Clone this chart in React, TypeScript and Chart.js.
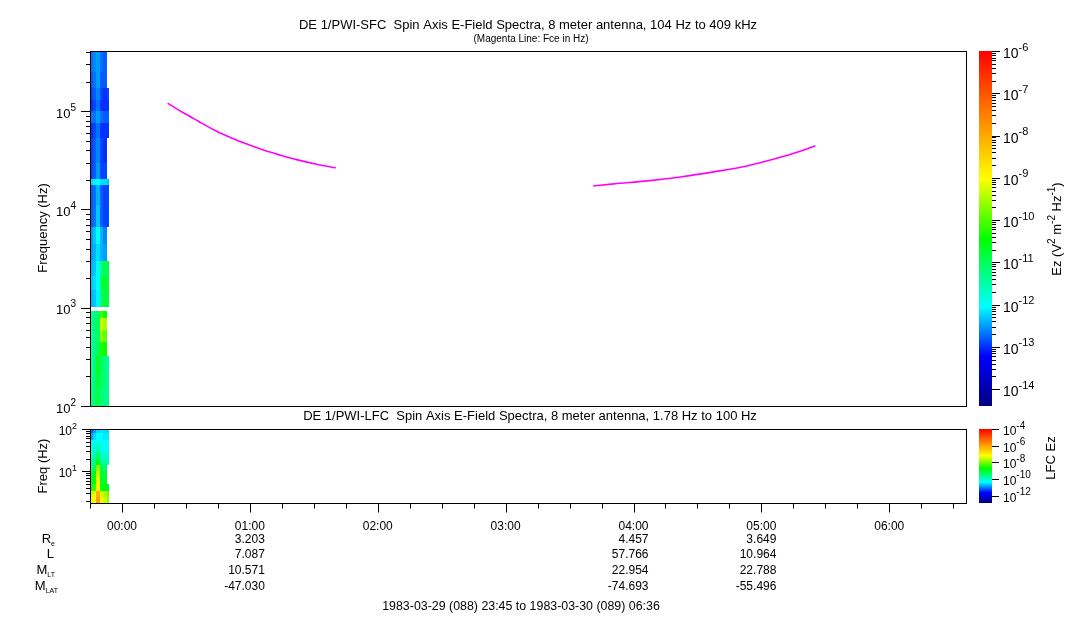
import React, { useEffect, useRef } from 'react';
import { Chart, registerables } from 'chart.js';

Chart.register(...registerables);

const FONT = '"Liberation Sans", Arial, Helvetica, sans-serif';

// time axis: hours relative to 1983-03-30 00:00
const T_START = -0.25; // 23:45
const T_END = 6.6; // 06:36

const hourTicks = [0, 1, 2, 3, 4, 5, 6];
const hourLabels = ['00:00', '01:00', '02:00', '03:00', '04:00', '05:00', '06:00'];

const orbitTimes = [1, 4, 5];
const orbitRe = ['3.203', '4.457', '3.649'];
const orbitL = ['7.087', '57.766', '10.964'];
const orbitMLT = ['10.571', '22.954', '22.788'];
const orbitMLAT = ['-47.030', '-74.693', '-55.496'];

// spectrogram time bins (minutes from 00:00)
const specTimeEdgesMin = [-15, -13.5, -12, -10.5, -9, -7, -6.3];

// SFC (upper) spectrogram: frequency bin edges (Hz) and log10 power per bin
const sfcFreqEdges = [100, 150, 220, 325, 450, 600, 780, 923, 1023, 1500, 2100, 3000, 4500, 6600, 11000, 17900, 20600, 30000, 52800, 75000, 100000, 130000, 171000, 250000, 409000];
const sfcLogPower: (number | null)[][] = [
  [-11.3, -11.1, -10.9, -11.2, -11.3, -11.3],
  [-11.4, -11.2, -10.8, -11.1, -11.2, -11.4],
  [-11.5, -11.2, -10.7, -11.0, -11.3, -11.4],
  [-11.5, -11.3, -11.0, -10.3, -10.4, null],
  [-11.5, -11.3, -11.1, -9.7, -9.9, null],
  [-11.4, -11.2, -11.0, -9.3, -9.5, null],
  [-11.4, -11.3, -11.1, -10.1, -10.4, null],
  [null, null, null, null, null, null],
  [-12.4, -12.3, -12.1, -11.2, -10.8, -10.9],
  [-12.3, -12.2, -12.0, -11.0, -10.7, -10.9],
  [-12.4, -12.3, -12.0, -11.3, -10.9, -11.0],
  [-12.5, -12.4, -12.2, -12.4, -12.5, null],
  [-12.5, -12.3, -12.0, -12.4, -12.6, null],
  [-12.8, -12.7, -12.3, -12.8, -12.9, -12.9],
  [-12.8, -12.7, -12.4, -12.8, -12.9, -12.9],
  [-12.2, -12.1, -12.0, -12.2, -12.2, -12.3],
  [-12.9, -12.8, -12.5, -12.9, -12.9, null],
  [-12.9, -12.8, -12.6, -12.9, -13.0, null],
  [-13.0, -12.9, -12.7, -13.0, -13.0, -13.0],
  [-12.7, -12.7, -12.5, -12.7, -12.8, -12.8],
  [-13.0, -12.9, -12.7, -13.0, -13.0, -13.0],
  [-12.9, -12.8, -12.6, -12.9, -13.0, -12.9],
  [-12.8, -12.7, -12.5, -12.8, -12.8, null],
  [-12.7, -12.6, -12.5, -12.7, -12.8, null],
];

// LFC (lower) spectrogram
const lfcFreqEdges = [1.78, 2.5, 3.5, 5, 7, 10, 14, 20, 28, 40, 56, 79, 100];
const lfcLogPower: (number | null)[][] = [
  [-7.3, -7.2, -6.0, -7.3, -7.5, -7.9],
  [-7.5, -7.3, -6.2, -7.5, -7.7, -8.0],
  [-8.6, -8.4, -7.0, -8.7, -8.8, -8.9],
  [-8.9, -8.7, -7.3, -8.9, -9.0, null],
  [-9.0, -8.8, -7.5, -9.0, -9.1, null],
  [-9.6, -9.3, -7.9, -9.2, -9.4, null],
  [-9.8, -9.6, -8.8, -9.7, -9.8, -9.9],
  [-10.0, -9.9, -9.4, -10.0, -10.1, -10.2],
  [-10.2, -10.1, -9.9, -10.3, -10.3, -10.4],
  [-10.4, -10.3, -10.2, -10.4, -10.4, -10.4],
  [-10.9, -10.6, -10.4, -10.4, -10.5, -10.5],
  [-11.1, -10.9, -10.6, -10.5, -10.6, -10.6],
];

// Electron gyrofrequency (Fce) traces
const fce1Time = [0.357, 0.487, 0.591, 0.721, 0.852, 0.982, 1.112, 1.242, 1.373, 1.529, 1.672];
const fce1Freq = [120500, 95100, 79800, 64300, 53700, 45900, 39900, 35500, 31900, 28700, 26500];
const fce2Time = [3.685, 3.846, 4.107, 4.367, 4.627, 4.888, 5.148, 5.279, 5.422];
const fce2Freq = [17300, 18200, 19500, 21400, 24100, 27700, 33900, 38200, 44500];

const sfcColorRange = [-14.4, -6];
const lfcColorRange = [-12.9, -4];
const sfcCbExponents = [-6, -7, -8, -9, -10, -11, -12, -13, -14];
const lfcCbExponents = [-4, -6, -8, -10, -12];

const COLOR_STOPS: [number, number[]][] = [
  [0, [0, 0, 128]],
  [0.14, [0, 0, 255]],
  [0.28, [0, 255, 255]],
  [0.47, [0, 255, 0]],
  [0.64, [255, 255, 0]],
  [1, [255, 0, 0]],
];

function colorAt(f: number) {
  f = Math.max(0, Math.min(1, f));
  for (let i = 1; i < COLOR_STOPS.length; i++) {
    const [p0, c0] = COLOR_STOPS[i - 1];
    const [p1, c1] = COLOR_STOPS[i];
    if (f <= p1) {
      const u = (f - p0) / (p1 - p0);
      return `rgb(${c0.map((v, k) => Math.round(v + (c1[k] - v) * u)).join(',')})`;
    }
  }
  return 'rgb(255,0,0)';
}

type Seg = { t: string; size: number; d?: number };

function drawSegs(ctx: CanvasRenderingContext2D, segs: Seg[], x: number, y: number, align: 'left' | 'center' | 'right') {
  const widths = segs.map((s) => {
    ctx.font = `${s.size}px ${FONT}`;
    return ctx.measureText(s.t).width;
  });
  const total = widths.reduce((a, b) => a + b, 0);
  let cx = align === 'left' ? x : align === 'center' ? x - total / 2 : x - total;
  ctx.textAlign = 'left';
  ctx.fillStyle = '#000';
  segs.forEach((s, i) => {
    ctx.font = `${s.size}px ${FONT}`;
    ctx.fillText(s.t, cx, y + (s.d || 0));
    cx += widths[i];
  });
}

function text(ctx: CanvasRenderingContext2D, t: string, x: number, y: number, size: number, align: CanvasTextAlign) {
  ctx.font = `${size}px ${FONT}`;
  ctx.textAlign = align;
  ctx.fillStyle = '#000';
  ctx.fillText(t, x, y);
}

function drawCells(ctx: CanvasRenderingContext2D, xs: any, ys: any, tEdges: number[], fEdges: number[], m: (number | null)[][], range: number[]) {
  for (let r = 0; r < m.length; r++) {
    for (let c = 0; c < m[r].length; c++) {
      const v = m[r][c];
      if (v === null || v === undefined) continue;
      const x0 = Math.round(xs.getPixelForValue(tEdges[c] / 60));
      const x1 = Math.round(xs.getPixelForValue(tEdges[c + 1] / 60));
      const yT = Math.round(ys.getPixelForValue(fEdges[r + 1]));
      const yB = Math.round(ys.getPixelForValue(fEdges[r]));
      ctx.fillStyle = colorAt((v - range[0]) / (range[1] - range[0]));
      ctx.fillRect(x0, yT, x1 - x0, yB - yT);
    }
  }
}

function drawFrame(ctx: CanvasRenderingContext2D, a: any) {
  ctx.strokeStyle = '#000';
  ctx.lineWidth = 1;
  ctx.strokeRect(Math.round(a.left) + 0.5, Math.round(a.top) + 0.5, Math.round(a.right - a.left), Math.round(a.bottom - a.top));
}

function logTicks(ctx: CanvasRenderingContext2D, sc: any, x: number, dir: number, decades: number[], majorLen: number, minorLen: number, minor: boolean) {
  ctx.beginPath();
  const lo = Math.min(sc.min, sc.max) * 0.9999;
  const hi = Math.max(sc.min, sc.max) * 1.0001;
  decades.forEach((d) => {
    const v = Math.pow(10, d);
    if (v >= lo && v <= hi) {
      const y = Math.round(sc.getPixelForValue(v)) + 0.5;
      ctx.moveTo(x, y);
      ctx.lineTo(x + dir * majorLen, y);
    }
    if (minor) {
      for (let k = 2; k <= 9; k++) {
        const mv = k * v;
        if (mv >= lo && mv <= hi) {
          const y = Math.round(sc.getPixelForValue(mv)) + 0.5;
          ctx.moveTo(x, y);
          ctx.lineTo(x + dir * minorLen, y);
        }
      }
    }
  });
  ctx.strokeStyle = '#000';
  ctx.lineWidth = 1;
  ctx.stroke();
}

function powLabel(ctx: CanvasRenderingContext2D, exp: number, x: number, yTick: number, align: 'left' | 'right', bs: number, ss: number) {
  drawSegs(ctx, [
    { t: '10', size: bs, d: 0.5 * bs },
    { t: String(exp), size: ss, d: -0.5 },
  ], x, yTick, align);
}

function drawColorbar(ctx: CanvasRenderingContext2D, cb: any, x0: number, x1: number, range: number[]) {
  const top = Math.round(cb.getPixelForValue(Math.pow(10, range[1])));
  const bot = Math.round(cb.getPixelForValue(Math.pow(10, range[0])));
  const g = ctx.createLinearGradient(0, bot, 0, top);
  COLOR_STOPS.forEach(([p, c]) => g.addColorStop(p, `rgb(${c.join(',')})`));
  ctx.fillStyle = g;
  ctx.fillRect(x0, top, x1 - x0, bot - top);
  ctx.fillStyle = '#000';
}

function rotated(ctx: CanvasRenderingContext2D, cx: number, cy: number, fn: () => void) {
  ctx.save();
  ctx.translate(cx, cy);
  ctx.rotate(-Math.PI / 2);
  fn();
  ctx.restore();
}

const sfcPlugin = {
  id: 'sfcDecor',
  beforeDatasetsDraw(chart: any) {
    const { ctx, chartArea: a, scales } = chart;
    ctx.save();
    ctx.beginPath();
    ctx.rect(a.left, a.top, a.right - a.left, a.bottom - a.top);
    ctx.clip();
    drawCells(ctx, scales.x, scales.y, specTimeEdgesMin, sfcFreqEdges, sfcLogPower, sfcColorRange);
    ctx.restore();
  },
  afterDraw(chart: any) {
    const { ctx, chartArea: a, scales } = chart;
    ctx.save();
    ctx.textBaseline = 'alphabetic';
    drawFrame(ctx, a);
    logTicks(ctx, scales.y, a.left, -1, [2, 3, 4, 5], 9, 4, true);
    [2, 3, 4, 5].forEach((d) => powLabel(ctx, d, a.left - 14, scales.y.getPixelForValue(Math.pow(10, d)), 'right', 13, 10));
    const mid = (a.left + a.right) / 2;
    text(ctx, 'DE 1/PWI-SFC  Spin Axis E-Field Spectra, 8 meter antenna, 104 Hz to 409 kHz', mid, 28.8, 13, 'center');
    text(ctx, '(Magenta Line: Fce in Hz)', mid + 3, 42, 10, 'center');
    ctx.textBaseline = 'middle';
    rotated(ctx, 43, 228, () => text(ctx, 'Frequency (Hz)', 0, 0, 13, 'center'));
    ctx.textBaseline = 'alphabetic';
    // colorbar
    const cb = scales.cb;
    drawColorbar(ctx, cb, 979, 992, sfcColorRange);
    logTicks(ctx, cb, 992, 1, sfcCbExponents, 8, 4, true);
    sfcCbExponents.forEach((e) => powLabel(ctx, e, 1003, cb.getPixelForValue(Math.pow(10, e)), 'left', 14, 11));
    ctx.textBaseline = 'middle';
    rotated(ctx, 1057, 229, () => {
      drawSegs(ctx, [
        { t: 'Ez (V', size: 13 },
        { t: '2', size: 10, d: -5 },
        { t: ' m', size: 13 },
        { t: '-2', size: 10, d: -5 },
        { t: ' Hz', size: 13 },
        { t: '-1', size: 10, d: -5 },
        { t: ')', size: 13 },
      ], 0, 0, 'center');
    });
    ctx.restore();
  },
};

const lfcPlugin = {
  id: 'lfcDecor',
  beforeDatasetsDraw(chart: any) {
    const { ctx, chartArea: a, scales } = chart;
    ctx.save();
    ctx.beginPath();
    ctx.rect(a.left, a.top, a.right - a.left, a.bottom - a.top);
    ctx.clip();
    drawCells(ctx, scales.x, scales.y, specTimeEdgesMin, lfcFreqEdges, lfcLogPower, lfcColorRange);
    ctx.restore();
  },
  afterDraw(chart: any) {
    const { ctx, chartArea: a, scales } = chart;
    const xs = scales.x;
    ctx.save();
    ctx.textBaseline = 'alphabetic';
    drawFrame(ctx, a);
    logTicks(ctx, scales.y, a.left, -1, [0, 1, 2], 8, 4, true);
    [1, 2].forEach((d) => powLabel(ctx, d, a.left - 13, scales.y.getPixelForValue(Math.pow(10, d)), 'right', 12, 9));
    const mid = (a.left + a.right) / 2;
    text(ctx, 'DE 1/PWI-LFC  Spin Axis E-Field Spectra, 8 meter antenna, 1.78 Hz to 100 Hz', mid + 2, 419.8, 13, 'center');
    ctx.textBaseline = 'middle';
    rotated(ctx, 43, 466, () => text(ctx, 'Freq (Hz)', 0, 0, 13, 'center'));
    ctx.textBaseline = 'alphabetic';
    // time ticks (15 min minor, hourly major)
    ctx.beginPath();
    const yb = Math.round(a.bottom) + 0.5;
    for (let t = T_START; t <= T_END + 1e-9; t += 0.25) {
      const x = Math.round(xs.getPixelForValue(t)) + 0.5;
      const major = Math.abs(t - Math.round(t)) < 1e-6;
      ctx.moveTo(x, yb);
      ctx.lineTo(x, yb + (major ? 9 : 5));
    }
    ctx.strokeStyle = '#000';
    ctx.lineWidth = 1;
    ctx.stroke();
    ctx.font = `12px ${FONT}`;
    const halfW = ctx.measureText('00:00').width / 2;
    hourTicks.forEach((h, i) => text(ctx, hourLabels[i], xs.getPixelForValue(h), 529.5, 12, 'center'));
    const rows = [orbitRe, orbitL, orbitMLT, orbitMLAT];
    const rowY = [542.8, 558.3, 574.3, 590.3];
    orbitTimes.forEach((t, i) => {
      const xr = xs.getPixelForValue(t) + halfW;
      rows.forEach((r, k) => text(ctx, r[i], xr, rowY[k], 12, 'right'));
    });
    drawSegs(ctx, [{ t: 'R', size: 13 }, { t: 'e', size: 7, d: 3 }], 55, rowY[0], 'right');
    drawSegs(ctx, [{ t: 'L', size: 13 }], 54, rowY[1], 'right');
    drawSegs(ctx, [{ t: 'M', size: 13 }, { t: 'LT', size: 7, d: 3 }], 55, rowY[2], 'right');
    drawSegs(ctx, [{ t: 'M', size: 13 }, { t: 'LAT', size: 7, d: 3 }], 58, rowY[3], 'right');
    text(ctx, '1983-03-29 (088) 23:45 to 1983-03-30 (089) 06:36', 521, 610, 12.4, 'center');
    // colorbar
    const cb = scales.cb;
    drawColorbar(ctx, cb, 979, 992, lfcColorRange);
    logTicks(ctx, cb, 992, 1, lfcCbExponents, 7, 0, false);
    lfcCbExponents.forEach((e) => powLabel(ctx, e, 1003, cb.getPixelForValue(Math.pow(10, e)), 'left', 12, 10));
    ctx.textBaseline = 'middle';
    rotated(ctx, 1051, 458, () => text(ctx, 'LFC Ez', 0, 0, 13, 'center'));
    ctx.restore();
  },
};

export default function App() {
  const mainRef = useRef<HTMLCanvasElement>(null);
  const lowRef = useRef<HTMLCanvasElement>(null);

  useEffect(() => {
    const common = {
      responsive: false,
      animation: false as const,
      events: [] as any[],
      plugins: { legend: { display: false }, title: { display: false }, tooltip: { enabled: false } },
    };
    const main = new Chart(mainRef.current!, {
      type: 'line',
      data: {
        datasets: [
          {
            data: fce1Time.map((t, i) => ({ x: t, y: fce1Freq[i] })),
            borderColor: '#ff00ff',
            borderWidth: 1.6,
            pointRadius: 0,
            cubicInterpolationMode: 'monotone',
          },
          {
            data: fce2Time.map((t, i) => ({ x: t, y: fce2Freq[i] })),
            borderColor: '#ff00ff',
            borderWidth: 1.6,
            pointRadius: 0,
            cubicInterpolationMode: 'monotone',
          },
        ],
      },
      options: {
        ...common,
        layout: { padding: { left: 90, top: 51, right: 117, bottom: 214 } },
        scales: {
          x: { type: 'linear', min: T_START, max: T_END, display: false },
          y: { type: 'logarithmic', min: 100, max: 409000, display: false },
          cb: { type: 'logarithmic', axis: 'y', position: 'right', min: Math.pow(10, sfcColorRange[0]), max: Math.pow(10, sfcColorRange[1]), display: false },
        },
      } as any,
      plugins: [sfcPlugin],
    });
    const low = new Chart(lowRef.current!, {
      type: 'line',
      data: { datasets: [] },
      options: {
        ...common,
        layout: { padding: { left: 90, top: 429, right: 117, bottom: 117 } },
        scales: {
          x: { type: 'linear', min: T_START, max: T_END, display: false },
          y: { type: 'logarithmic', min: 1.78, max: 100, display: false },
          cb: { type: 'logarithmic', axis: 'y', position: 'right', min: Math.pow(10, lfcColorRange[0]), max: Math.pow(10, lfcColorRange[1]), display: false },
        },
      } as any,
      plugins: [lfcPlugin],
    });
    return () => {
      main.destroy();
      low.destroy();
    };
  }, []);

  return (
    <div style={{ position: 'absolute', left: 0, top: 0, width: 1083, height: 620, background: '#fff' }}>
      <canvas ref={lowRef} width={1083} height={620} style={{ position: 'absolute', left: 0, top: 0 }} />
      <canvas ref={mainRef} width={1083} height={620} style={{ position: 'absolute', left: 0, top: 0 }} />
    </div>
  );
}
